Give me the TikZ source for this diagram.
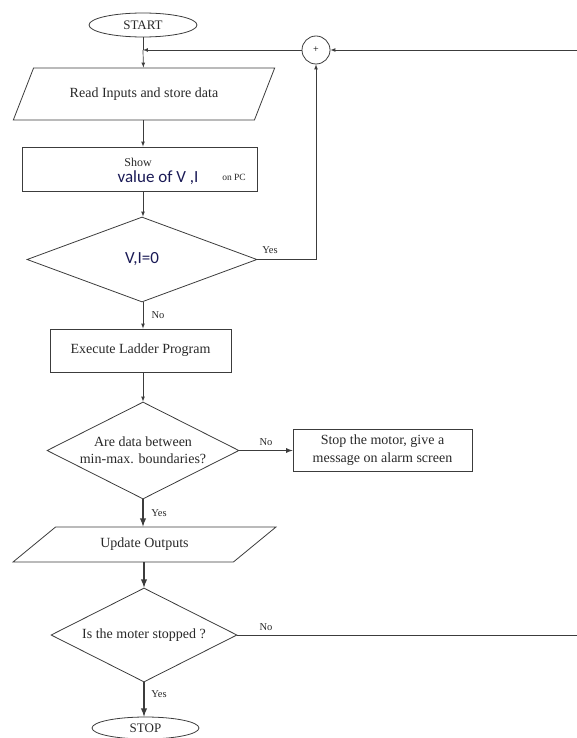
\documentclass[tikz,border=0pt]{standalone}
\usepackage{fontspec}
\setmainfont{Liberation Serif}
\newfontfamily\calibfont{Carlito}
\usetikzlibrary{shapes.geometric}
\definecolor{linegray}{RGB}{60,60,60}
\definecolor{textgray}{RGB}{40,40,40}
\definecolor{vinavy}{RGB}{25,25,85}
\begin{document}
\begin{tikzpicture}[x=1pt,y=-1pt]
	\tikzstyle{terminal}=[ellipse, draw=linegray, line width=0.8pt, inner sep=0pt, text=textgray, font=\fontsize{13}{15}\selectfont]
	\tikzstyle{inout}=[trapezium, trapezium stretches=true, draw=linegray, line width=0.8pt, inner sep=0pt, text=textgray, font=\fontsize{14}{16}\selectfont]
	\tikzstyle{process}=[rectangle, draw=linegray, line width=0.8pt, inner sep=0pt, text=textgray, font=\fontsize{14}{16}\selectfont]
	\tikzstyle{decision}=[diamond, aspect=2, draw=linegray, line width=0.8pt, inner sep=0pt, text=textgray, align=center, font=\fontsize{14}{17}\selectfont]
	\tikzstyle{answer}=[inner sep=0pt, text=textgray, font=\fontsize{10.5}{12}\selectfont]
	\tikzstyle{flow}=[draw=linegray, line width=0.7pt]
	\tikzstyle{boldflow}=[draw=linegray, line width=1.8pt]
	\useasboundingbox (0,0) rectangle (577,738);
	% Start and merge
	\node at (143,25) [terminal, minimum width=108, minimum height=24] (start) {START};
	\coordinate (merge) at (143,50);
	\node at (316,50) [circle, draw=linegray, line width=0.8pt, minimum size=28, inner sep=0pt, font=\fontsize{10}{10}\selectfont] (plus) {+};
	\coordinate (loopin) at (577,50);
	% Read inputs
	\node at (144,94) [inout, minimum width=262, minimum height=52, trapezium left angle=43, trapezium right angle=137] (read) {Read Inputs and store data\hspace{22pt}};
	% Show values
	\node at (139.5,169) [process, minimum width=235, minimum height=44] (show) {};
	\node at (138,162) [inner sep=0pt, text=textgray, font=\fontsize{12}{12}\selectfont] (showtxt) {Show};
	\node at (158,178) [inner sep=0pt, text=vinavy, font=\calibfont\fontsize{17}{17}\selectfont] (vitxt) {value of V ,I};
	\node at (234,177) [inner sep=0pt, text=textgray, font=\fontsize{9.5}{10}\selectfont] (pctxt) {on PC};
	% V,I = 0 ?
	\node at (142,259.5) [decision, minimum width=230, minimum height=85] (zero) {\calibfont\fontsize{17}{17}\selectfont\color{vinavy}V,I=0};
	% Ladder
	\node at (140.5,350.5) [process, minimum width=181, minimum height=43] (ladder) {Execute Ladder Program};
	% Boundaries
	\node at (143,450.5) [decision, minimum width=192, minimum height=97] (bound) {Are data between\\min-max. boundaries?};
	\node at (382.5,450) [process, minimum width=179, minimum height=42, align=center, font=\fontsize{14}{17.5}\selectfont] (alarm) {Stop the motor, give a\\message on alarm screen};
	% Outputs
	\node at (144.5,544.5) [inout, minimum width=263, minimum height=35, trapezium left angle=31, trapezium right angle=149] (update) {Update Outputs\hspace{20pt}};
	% Motor stopped ?
	\node at (144,635) [decision, minimum width=186, minimum height=94] (motor) {Is the moter stopped ?};
	\coordinate (loopout) at (577,635);
	\node at (145.5,728) [terminal, minimum width=107, minimum height=22] (stop) {STOP};
	%---------------------%
	\draw [flow] (start) to (merge);
	\draw [flow] [-latex] (merge) to (read);
	\draw [flow] [-latex] (plus) to (merge);
	\draw [flow] [-latex] (loopin) to (plus);
	\draw [flow] [-latex] (read.south -| merge) to (show.north -| merge);
	\draw [flow] [-latex] (show.south -| merge) to (zero.north -| merge);
	\draw [flow] [-latex] (zero.east) -| (plus.south);
	\node at (270,250) [answer] (zeroyes) {Yes};
	\draw [flow] [-latex] (zero.south -| merge) to (ladder.north -| merge);
	\node at (158,315) [answer] (zerono) {No};
	\draw [flow] [-latex] (ladder.south -| merge) to (bound.north);
	\draw [flow, line width=1.2pt] [-latex] (bound.east) to (alarm.west |- bound.east);
	\node at (266,442) [answer] (boundno) {No};
	\draw [boldflow] [-latex] (bound.south) to (update.north -| bound.south);
	\node at (159,513) [answer] (boundyes) {Yes};
	\draw [boldflow] [-latex] (update.south -| motor.north) to (motor.north);
	\draw [flow] (motor.east) to (loopout);
	\node at (266,627) [answer] (motorno) {No};
	\draw [boldflow] [-latex] (motor.south) to (stop.north -| motor.south);
	\node at (159,694) [answer] (motoryes) {Yes};
	%---------------------%
\end{tikzpicture}
\end{document}
